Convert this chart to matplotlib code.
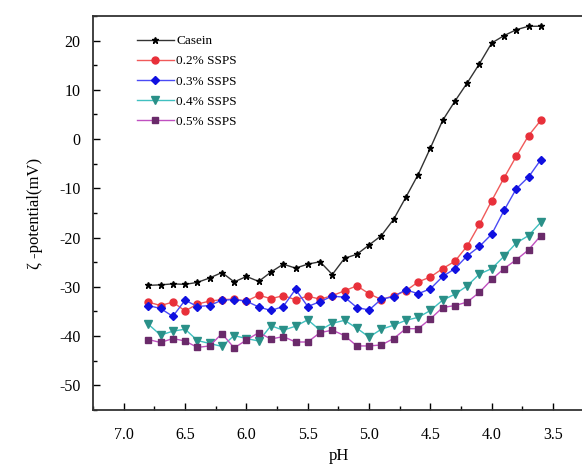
import numpy as np
import matplotlib
matplotlib.use("Agg")
import matplotlib.pyplot as plt
from matplotlib.ticker import MultipleLocator, FormatStrFormatter

plt.rcParams['font.family'] = ['Liberation Serif', 'DejaVu Serif']
plt.rcParams['axes.unicode_minus'] = False

# pH values (x axis)
ph = [6.8, 6.7, 6.6, 6.5, 6.4, 6.3, 6.2, 6.1, 6.0, 5.9, 5.8, 5.7, 5.6, 5.5, 5.4, 5.3, 5.2,
      5.1, 5.0, 4.9, 4.8, 4.7, 4.6, 4.5, 4.4, 4.3, 4.2, 4.1, 4.0, 3.9, 3.8, 3.7, 3.6]

casein = [-29.7, -29.6, -29.4, -29.5, -29.1, -28.2, -27.1, -29.0, -27.9, -28.9, -27.0, -25.4,
          -26.2, -25.4, -24.9, -27.5, -24.2, -23.4, -21.5, -19.6, -16.3, -11.8, -7.2, -1.8,
          3.8, 7.7, 11.4, 15.3, 19.5, 21.0, 22.2, 22.9, 22.9]
ssps_02 = [-33.1, -33.8, -33.1, -34.9, -33.5, -32.9, -32.6, -32.5, -32.9, -31.7, -32.4, -31.8,
           -32.6, -31.9, -32.5, -31.8, -30.8, -29.8, -31.4, -32.6, -31.8, -30.8, -29.0, -28.0,
           -26.3, -24.8, -21.7, -17.3, -12.5, -7.9, -3.5, 0.7, 3.8]
ssps_03 = [-33.8, -34.4, -36.0, -32.7, -34.0, -33.8, -32.7, -32.6, -32.9, -34.1, -34.8, -34.0,
           -30.5, -34.0, -33.0, -31.9, -32.1, -34.2, -34.7, -32.5, -32.0, -30.6, -31.4, -30.4,
           -27.9, -26.3, -23.7, -21.8, -19.3, -14.5, -10.1, -7.7, -4.2]
ssps_04 = [-37.6, -39.8, -39.0, -38.6, -40.9, -41.5, -42.1, -39.9, -40.5, -41.0, -37.9, -38.8,
           -38.0, -36.7, -38.8, -37.4, -36.8, -38.4, -40.2, -38.6, -37.8, -36.8, -36.2, -34.8,
           -32.7, -31.5, -29.8, -27.4, -26.3, -23.8, -21.1, -19.6, -16.9]
ssps_05 = [-40.7, -41.3, -40.5, -41.0, -42.3, -42.0, -39.5, -42.4, -40.8, -39.3, -40.6, -40.1,
           -41.2, -41.2, -39.3, -38.8, -39.9, -42.0, -42.0, -41.8, -40.5, -38.5, -38.5, -36.5,
           -34.2, -33.8, -33.1, -31.1, -28.5, -26.3, -24.5, -22.5, -19.6]

fig = plt.figure(figsize=(5.82, 4.68), dpi=100)
ax = fig.add_axes([0.160, 0.124, 0.843, 0.842])

# casein + 4 SSPS levels
ax.plot(ph, casein, color='#333333', marker='*', markersize=5, markerfacecolor='black',
        markeredgecolor='black', linewidth=1.0, label='Casein')
ax.plot(ph, ssps_02, color='#f05a5a', marker='o', markersize=5, markerfacecolor='#e8303a',
        markeredgecolor='#e8303a', linewidth=1.0, label='0.2% SSPS')
ax.plot(ph, ssps_03, color='#4a4af5', marker='D', markersize=4.5, markerfacecolor='#1010e0',
        markeredgecolor='#1010e0', linewidth=1.0, label='0.3% SSPS')
ax.plot(ph, ssps_04, color='#40c0c0', marker='v', markersize=5.5, markerfacecolor='#2a9088',
        markeredgecolor='#2a9088', linewidth=1.0, label='0.4% SSPS')
ax.plot(ph, ssps_05, color='#c050c0', marker='s', markersize=4.5, markerfacecolor='#6a2a6a',
        markeredgecolor='#6a2a6a', linewidth=1.0, label='0.5% SSPS')

ax.set_xlim(7.25, 3.25)
ax.set_ylim(-55, 25)
ax.xaxis.set_major_locator(MultipleLocator(0.5))
ax.xaxis.set_minor_locator(MultipleLocator(0.25))
ax.yaxis.set_major_locator(MultipleLocator(10))
ax.yaxis.set_minor_locator(MultipleLocator(5))
ax.xaxis.set_major_formatter(FormatStrFormatter('%.1f'))

ax.tick_params(which='major', direction='in', length=5, width=1, labelsize=11.5,
               top=False, right=False)
ax.tick_params(axis='x', which='major', pad=12)
ax.tick_params(axis='y', which='major', pad=9)
ax.tick_params(which='minor', direction='in', length=3, width=1, top=False, right=False)
for s in ax.spines.values():
    s.set_linewidth(1.3)
    s.set_color('#333333')

ax.set_xlabel('pH', fontsize=12, labelpad=4)
ax.set_ylabel('ζ -potential(mV)', fontsize=12, labelpad=12)

ax.legend(loc='upper left', bbox_to_anchor=(0.07, 0.975), frameon=False, fontsize=9.5,
          handlelength=2.8, handletextpad=0.2, labelspacing=0.6, borderaxespad=0.3)

fig.savefig('out.png', dpi=100)
